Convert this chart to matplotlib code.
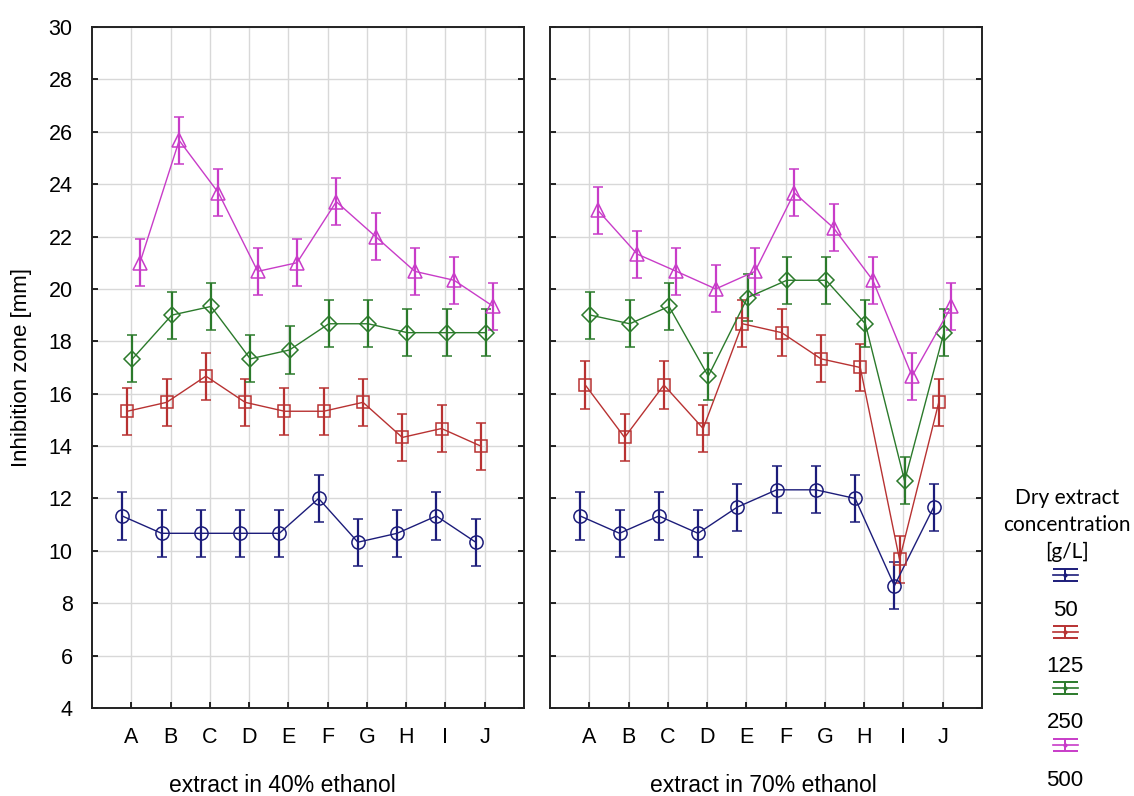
import numpy as np
import matplotlib
matplotlib.use("Agg")
import matplotlib.pyplot as plt

plt.rcParams['font.family'] = ['Liberation Sans', 'DejaVu Sans']

samples = ['A', 'B', 'C', 'D', 'E', 'F', 'G', 'H', 'I', 'J']
conc_labels = ['50', '125', '250', '500']

# inhibition zone [mm], extract in 40% ethanol
e40_50 = [11.33, 10.67, 10.67, 10.67, 10.67, 12.0, 10.33, 10.67, 11.33, 10.33]
e40_125 = [15.33, 15.67, 16.67, 15.67, 15.33, 15.33, 15.67, 14.33, 14.67, 14.0]
e40_250 = [17.33, 19.0, 19.33, 17.33, 17.67, 18.67, 18.67, 18.33, 18.33, 18.33]
e40_500 = [21.0, 25.67, 23.67, 20.67, 21.0, 23.33, 22.0, 20.67, 20.33, 19.33]

# extract in 70% ethanol
e70_50 = [11.33, 10.67, 11.33, 10.67, 11.67, 12.33, 12.33, 12.0, 8.67, 11.67]
e70_125 = [16.33, 14.33, 16.33, 14.67, 18.67, 18.33, 17.33, 17.0, 9.67, 15.67]
e70_250 = [19.0, 18.67, 19.33, 16.67, 19.67, 20.33, 20.33, 18.67, 12.67, 18.33]
e70_500 = [23.0, 21.33, 20.67, 20.0, 20.67, 23.67, 22.33, 20.33, 16.67, 19.33]

err = 0.9

colors = ['#1c1c7a', '#b83232', '#2b7a2b', '#c83cc8']
markers = ['o', 's', 'D', '^']
msizes = [9.5, 9, 8.5, 10.5]
offsets = [-0.23, -0.1, 0.03, 0.22]

fig = plt.figure(figsize=(11.34, 7.96), dpi=100)
ax1 = fig.add_axes([92 / 1134, 1 - 708 / 796, 432 / 1134, 681 / 796])
ax2 = fig.add_axes([550 / 1134, 1 - 708 / 796, 432 / 1134, 681 / 796])

x = np.arange(1, 11)
panels = [(ax1, [e40_50, e40_125, e40_250, e40_500]),
          (ax2, [e70_50, e70_125, e70_250, e70_500])]

for ax, series in panels:
    for vals, c, m, ms, off in zip(series, colors, markers, msizes, offsets):
        ax.errorbar(x + off, vals, yerr=err, color=c, marker=m, ms=ms,
                    mfc='none', mec=c, mew=1.1, lw=1.0, elinewidth=1.6,
                    capsize=3.5, capthick=1.6, zorder=3)
    ax.set_xlim(0, 11)
    ax.set_ylim(4, 30)
    ax.set_xticks(x)
    ax.set_xticklabels(samples)
    ax.set_yticks(np.arange(4, 31, 2))
    ax.grid(True, color='#d8d8d8', lw=1.0)
    ax.tick_params(direction='in', length=4, width=1.2, labelsize=15.5,
                   left=True, right=True, pad=14)
    for s in ax.spines.values():
        s.set_linewidth(1.4)
        s.set_color('#222222')

ax2.tick_params(labelleft=False)
ax1.set_ylabel('Inhibition zone [mm]', fontsize=16, labelpad=12)

fig.text(282 / 1134, 1 - 786 / 796, 'extract in 40% ethanol', fontsize=16.5,
         ha='center', va='center')
fig.text(763 / 1134, 1 - 786 / 796, 'extract in 70% ethanol', fontsize=16.5,
         ha='center', va='center')

# legend, drawn as its own panel
lg = fig.add_axes([1010 / 1134, 0, 110 / 1134, 1])
lg.set_xlim(0, 110)
lg.set_ylim(796, 0)
lg.axis('off')
lg.text(57, 525, 'Dry extract\nconcentration\n[g/L]', ha='center', va='center',
        fontsize=15, family=['Lato', 'DejaVu Sans'], linespacing=1.45)
sym_y = [575, 632, 688, 745]
for c, lab, yy in zip(colors, conc_labels, sym_y):
    lg.plot([42.5, 67.5], [yy, yy], color=c, lw=1.2)
    lg.errorbar([55], [yy], yerr=[[6], [6]], color=c, marker='.', ms=4,
                elinewidth=1.4, capsize=9, capthick=1.4)
    lg.text(55, yy + 35, lab, ha='center', va='center', fontsize=16)

fig.savefig('out.png', dpi=100)
